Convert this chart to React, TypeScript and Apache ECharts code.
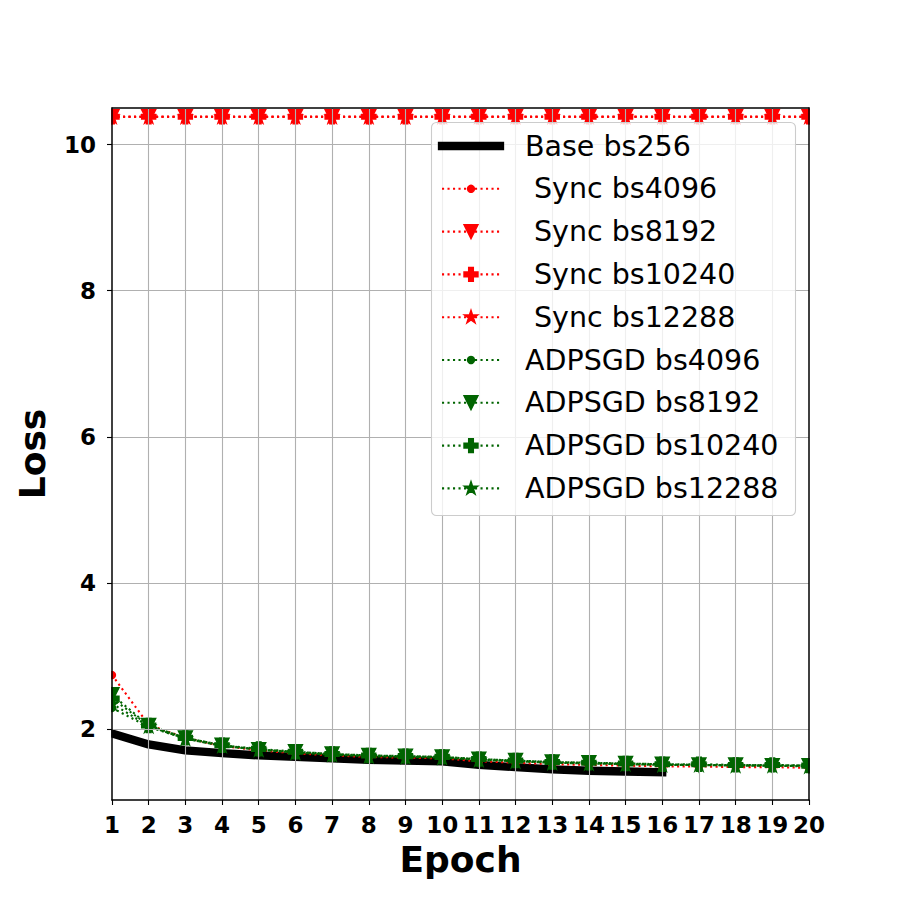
import React, { useEffect, useRef } from "react";
import * as echarts from "echarts";

// Training loss per epoch
const epochs = [1, 2, 3, 4, 5, 6, 7, 8, 9, 10, 11, 12, 13, 14, 15, 16, 17, 18, 19, 20];

const baseBs256 = [1.94, 1.79, 1.71, 1.67, 1.64, 1.62, 1.6, 1.58, 1.57, 1.56, 1.51, 1.48, 1.45, 1.43, 1.42, 1.41];

const syncBs4096 = [2.74, 2.06, 1.88, 1.77, 1.71, 1.67, 1.64, 1.62, 1.61, 1.6, 1.56, 1.54, 1.52, 1.51, 1.5, 1.49, 1.49, 1.48, 1.48, 1.47];
const syncBs8192 = [10.38, 10.38, 10.38, 10.38, 10.38, 10.38, 10.38, 10.38, 10.38, 10.38, 10.38, 10.38, 10.38, 10.38, 10.38, 10.38, 10.38, 10.38, 10.38, 10.38];
const syncBs10240 = [10.38, 10.38, 10.38, 10.38, 10.38, 10.38, 10.38, 10.38, 10.38, 10.38, 10.38, 10.38, 10.38, 10.38, 10.38, 10.38, 10.38, 10.38, 10.38, 10.38];
const syncBs12288 = [10.38, 10.38, 10.38, 10.38, 10.38, 10.38, 10.38, 10.38, 10.38, 10.38, 10.38, 10.38, 10.38, 10.38, 10.38, 10.38, 10.38, 10.38, 10.38, 10.38];

const adpsgdBs4096 = [2.29, 2.03, 1.87, 1.77, 1.72, 1.68, 1.65, 1.63, 1.62, 1.61, 1.58, 1.56, 1.54, 1.53, 1.52, 1.51, 1.51, 1.5, 1.5, 1.5];
const adpsgdBs8192 = [2.47, 2.05, 1.88, 1.78, 1.72, 1.69, 1.66, 1.64, 1.63, 1.62, 1.59, 1.57, 1.55, 1.54, 1.53, 1.52, 1.51, 1.51, 1.5, 1.5];
const adpsgdBs10240 = [2.42, 2.05, 1.88, 1.78, 1.73, 1.69, 1.66, 1.64, 1.63, 1.62, 1.59, 1.57, 1.55, 1.54, 1.53, 1.52, 1.52, 1.51, 1.51, 1.5];
const adpsgdBs12288 = [2.35, 2.04, 1.87, 1.77, 1.72, 1.68, 1.65, 1.63, 1.62, 1.61, 1.58, 1.56, 1.54, 1.53, 1.52, 1.51, 1.51, 1.5, 1.5, 1.49];

const yTicks = [2, 4, 6, 8, 10];

const seriesNames = [
  "Base bs256",
  "Sync bs4096",
  "Sync bs8192",
  "Sync bs10240",
  "Sync bs12288",
  "ADPSGD bs4096",
  "ADPSGD bs8192",
  "ADPSGD bs10240",
  "ADPSGD bs12288",
];

const FONT = '"DejaVu Sans", "Liberation Sans", sans-serif';
const RED = "#ff0000";
const GREEN = "#006400";
const GRID_COLOR = "#b0b0b0";

// plot box
const PLOT_LEFT = 112;
const PLOT_TOP = 108;
const PLOT_W = 697;
const PLOT_H = 692;

type Marker = "dot" | "tri" | "plus" | "star";

// unit outlines (extent about +-1), screen coordinates (y down)
const TRI: number[][] = [[-1, -1], [1, -1], [0, 1]];
const PLUS: number[][] = [
  [-1, -3], [1, -3], [1, -1], [3, -1], [3, 1], [1, 1], [1, 3], [-1, 3], [-1, 1], [-3, 1], [-3, -1], [-1, -1],
].map(([x, y]) => [x / 3, y / 3]);
const STAR: number[][] = (() => {
  const pts: number[][] = [];
  for (let k = 0; k < 10; k++) {
    const a = (-90 + k * 36) * (Math.PI / 180);
    const r = k % 2 === 0 ? 1 : 0.381966;
    pts.push([r * Math.cos(a), r * Math.sin(a)]);
  }
  return pts;
})();

function toSymbolPath(pts: number[][]): string {
  return (
    "path://M" +
    pts.map(([x, y]) => `${(x * 10).toFixed(3)} ${(y * 10).toFixed(3)}`).join(" L") +
    " Z"
  );
}

const markerSymbol: Record<Marker, { symbol: string; size: number }> = {
  dot: { symbol: "circle", size: 7 },
  tri: { symbol: toSymbolPath(TRI), size: 14 },
  plus: { symbol: toSymbolPath(PLUS), size: 14 },
  star: { symbol: toSymbolPath(STAR), size: 13.3 },
};

const markerHalf: Record<Marker, number> = { dot: 3.5, tri: 7, plus: 7, star: 7 };

function dotted(name: string, values: number[], color: string, marker: Marker) {
  const m = markerSymbol[marker];
  return {
    name,
    type: "line",
    data: values.map((v, i) => [epochs[i], v]),
    clip: false,
    symbol: m.symbol,
    symbolSize: m.size,
    symbolKeepAspect: true,
    showAllSymbol: true,
    lineStyle: { color, width: 2.1, type: [2.1, 3.4], cap: "butt" },
    itemStyle: { color, borderColor: color, borderWidth: 1.4 },
    emphasis: { disabled: true },
    silent: true,
    z: 2,
  };
}

type Row = { name: string; color: string; marker?: Marker; indent: number };

const legendRows: Row[] = [
  { name: seriesNames[0], color: "#000000", indent: 0 },
  { name: seriesNames[1], color: RED, marker: "dot", indent: 9 },
  { name: seriesNames[2], color: RED, marker: "tri", indent: 9 },
  { name: seriesNames[3], color: RED, marker: "plus", indent: 9 },
  { name: seriesNames[4], color: RED, marker: "star", indent: 9 },
  { name: seriesNames[5], color: GREEN, marker: "dot", indent: 0 },
  { name: seriesNames[6], color: GREEN, marker: "tri", indent: 0 },
  { name: seriesNames[7], color: GREEN, marker: "plus", indent: 0 },
  { name: seriesNames[8], color: GREEN, marker: "star", indent: 0 },
];

function legendGraphics() {
  const box = { x: 431.5, y: 122.5, w: 364, h: 393 };
  const rowY0 = 146;
  const rowStep = 42.8;
  const hx0 = 442;
  const hx1 = 500;
  const hxm = (hx0 + hx1) / 2;
  const textX = 525;
  const els: any[] = [
    {
      type: "rect",
      z: 10,
      silent: true,
      shape: { x: box.x, y: box.y, width: box.w, height: box.h, r: 5 },
      style: { fill: "rgba(255,255,255,0.8)", stroke: "#cccccc", lineWidth: 1.1 },
    },
  ];
  legendRows.forEach((row, i) => {
    const y = rowY0 + i * rowStep;
    if (!row.marker) {
      els.push({
        type: "line",
        z: 11,
        silent: true,
        shape: { x1: hx0, y1: y, x2: hx1, y2: y },
        style: { stroke: row.color, lineWidth: 8.3, lineCap: "square" },
      });
    } else {
      els.push({
        type: "line",
        z: 11,
        silent: true,
        shape: { x1: hx0, y1: y, x2: hx1, y2: y },
        style: { stroke: row.color, lineWidth: 2.1, lineDash: [2.1, 3.4], lineCap: "butt" },
      });
      const h = markerHalf[row.marker];
      if (row.marker === "dot") {
        els.push({
          type: "circle",
          z: 12,
          silent: true,
          shape: { cx: hxm, cy: y, r: h },
          style: { fill: row.color, stroke: row.color, lineWidth: 1.4 },
        });
      } else {
        const unit = row.marker === "tri" ? TRI : row.marker === "plus" ? PLUS : STAR;
        els.push({
          type: "polygon",
          z: 12,
          silent: true,
          shape: { points: unit.map(([px, py]) => [hxm + px * h, y + py * h]) },
          style: { fill: row.color, stroke: row.color, lineWidth: 1.4 },
        });
      }
    }
    els.push({
      type: "text",
      z: 12,
      silent: true,
      style: {
        text: row.name,
        x: textX + row.indent,
        y,
        fill: "#000000",
        fontFamily: FONT,
        fontSize: 28.5,
        verticalAlign: "middle",
        align: "left",
      },
    });
  });
  return els;
}

// white strips that trim markers overhanging the left/right edges of the plot
function edgeMasks() {
  return [
    {
      type: "rect",
      z: 3,
      silent: true,
      shape: { x: 99, y: 100, width: 12.2, height: 708 },
      style: { fill: "#ffffff" },
    },
    {
      type: "rect",
      z: 3,
      silent: true,
      shape: { x: PLOT_LEFT + PLOT_W + 0.9, y: 100, width: 20, height: 708 },
      style: { fill: "#ffffff" },
    },
  ];
}

const frameLine = { show: true, onZero: false, lineStyle: { color: "#000000", width: 1.5 } };
const tickLabel = { color: "#000000", fontFamily: FONT, fontWeight: "bold", fontSize: 23 };

function buildOption() {
  return {
    animation: false,
    backgroundColor: "#ffffff",
    grid: { left: PLOT_LEFT, top: PLOT_TOP, width: PLOT_W, height: PLOT_H, containLabel: false },
    xAxis: [
      {
        type: "value",
        min: 1,
        max: 20,
        interval: 1,
        position: "bottom",
        z: 4,
        axisLine: frameLine,
        axisTick: { show: true, inside: false, length: 5, lineStyle: { color: "#000000", width: 1.1 } },
        axisLabel: { ...tickLabel, margin: 13, hideOverlap: false },
        splitLine: { show: true, showMinLine: false, showMaxLine: false, lineStyle: { color: GRID_COLOR, width: 1.1 } },
        name: "Epoch",
        nameLocation: "middle",
        nameGap: 41,
        nameTextStyle: { color: "#000000", fontFamily: FONT, fontWeight: "bold", fontSize: 36 },
      },
      {
        type: "value",
        min: 1,
        max: 20,
        position: "top",
        z: 4,
        axisLine: frameLine,
        axisTick: { show: false },
        axisLabel: { show: false },
        splitLine: { show: false },
      },
    ],
    yAxis: [
      {
        type: "value",
        min: 1.03,
        max: 10.5,
        position: "left",
        z: 4,
        axisLine: frameLine,
        axisTick: {
          show: true,
          inside: false,
          length: 5,
          customValues: yTicks,
          lineStyle: { color: "#000000", width: 1.1 },
        },
        axisLabel: { ...tickLabel, margin: 16, customValues: yTicks },
        splitLine: { show: true, lineStyle: { color: GRID_COLOR, width: 1.1 } },
        name: "Loss",
        nameLocation: "middle",
        nameGap: 62,
        nameTextStyle: { color: "#000000", fontFamily: FONT, fontWeight: "bold", fontSize: 36 },
      },
      {
        type: "value",
        min: 1.03,
        max: 10.5,
        position: "right",
        z: 4,
        axisLine: frameLine,
        axisTick: { show: false },
        axisLabel: { show: false },
        splitLine: { show: false },
      },
    ],
    series: [
      {
        name: seriesNames[0],
        type: "line",
        data: baseBs256.map((v, i) => [epochs[i], v]),
        clip: false,
        symbol: "none",
        lineStyle: { color: "#000000", width: 8.3, cap: "square", join: "round" },
        emphasis: { disabled: true },
        silent: true,
        z: 2,
      },
      dotted(seriesNames[1], syncBs4096, RED, "dot"),
      dotted(seriesNames[2], syncBs8192, RED, "tri"),
      dotted(seriesNames[3], syncBs10240, RED, "plus"),
      dotted(seriesNames[4], syncBs12288, RED, "star"),
      dotted(seriesNames[5], adpsgdBs4096, GREEN, "dot"),
      dotted(seriesNames[6], adpsgdBs8192, GREEN, "tri"),
      dotted(seriesNames[7], adpsgdBs10240, GREEN, "plus"),
      dotted(seriesNames[8], adpsgdBs12288, GREEN, "star"),
    ],
    graphic: [...edgeMasks(), ...legendGraphics()],
  };
}

export default function App() {
  const ref = useRef<HTMLDivElement>(null);

  useEffect(() => {
    document.body.style.margin = "0";
    if (!ref.current) return;
    const chart = echarts.init(ref.current, undefined, { renderer: "svg" });
    chart.setOption(buildOption() as any);
    return () => {
      chart.dispose();
    };
  }, []);

  return <div ref={ref} style={{ width: 900, height: 900 }} />;
}
